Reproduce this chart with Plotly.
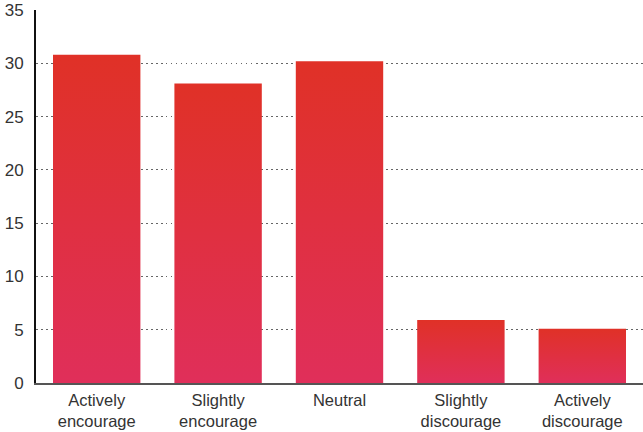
import plotly.graph_objects as go

categories = ["Actively<br>encourage", "Slightly<br>encourage", "Neutral",
              "Slightly<br>discourage", "Actively<br>discourage"]
values = [30.8, 28.1, 30.2, 5.9, 5.1]
y_ticks = [0, 5, 10, 15, 20, 25, 30, 35]

TOP_COLOR = "#E03127"
BOTTOM_COLOR = "#E02F5A"
half_w = 0.36

fig = go.Figure()
for i, v in enumerate(values):
    xs = [i - half_w, i + half_w, i + half_w, i - half_w, i - half_w]
    ys = [0, 0, v, v, 0]
    fig.add_trace(go.Scatter(
        x=xs, y=ys, mode="lines", fill="toself",
        line=dict(width=0, color="rgba(0,0,0,0)"),
        fillgradient=dict(type="vertical",
                          colorscale=[[0, BOTTOM_COLOR], [1, TOP_COLOR]]),
        hoverinfo="skip", showlegend=False,
    ))

fig.update_layout(
    width=643, height=432,
    margin=dict(l=36, r=0, t=10, b=49),
    plot_bgcolor="white", paper_bgcolor="white",
    font=dict(family="Liberation Sans, Arial, sans-serif", size=16, color="#333333"),
    showlegend=False,
)
fig.update_xaxes(
    range=[-0.5, len(values) - 0.5],
    tickvals=list(range(len(values))), ticktext=categories,
    showgrid=False, zeroline=False,
    showline=True, linecolor="#555555", linewidth=2,
    ticks="", ticklabelstandoff=1,
    tickfont=dict(size=16.5, color="#333333"),
    fixedrange=True,
)
fig.update_yaxes(
    range=[0, 35], tickvals=y_ticks,
    showgrid=True, gridcolor="#666666", gridwidth=1.3, griddash="1.5px,3.5px",
    zeroline=False,
    showline=True, linecolor="#111111", linewidth=2,
    ticks="", ticklabelstandoff=7,
    tickfont=dict(size=17, color="#333333"),
    fixedrange=True,
)

fig.write_html("out.html")
